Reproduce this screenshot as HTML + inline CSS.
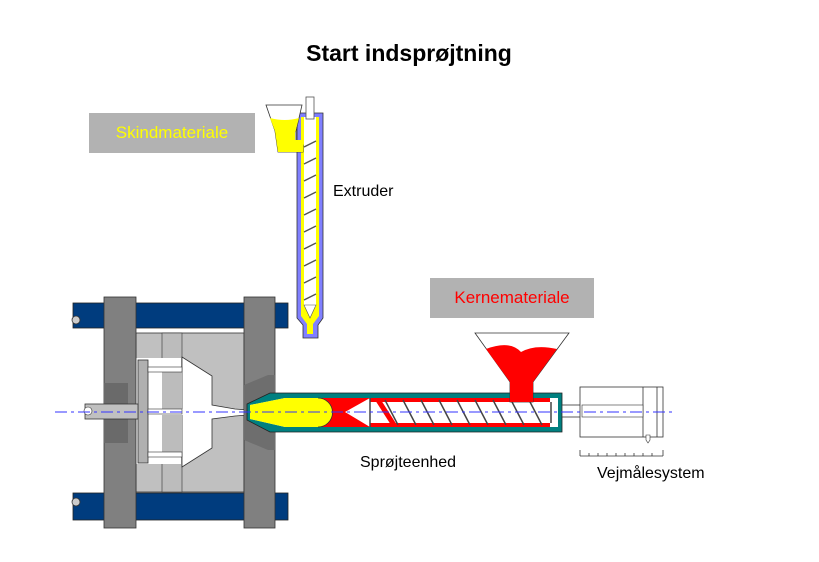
<!DOCTYPE html>
<html><head><meta charset="utf-8"><style>
html,body{margin:0;padding:0;background:#fff;width:819px;height:562px;overflow:hidden}
svg{display:block}
text{font-family:"Liberation Sans",Arial,sans-serif}
</style></head><body>
<svg width="819" height="562" viewBox="0 0 819 562" xmlns="http://www.w3.org/2000/svg">
<rect width="819" height="562" fill="#fff"/>
<text x="409" y="61" font-size="23" font-weight="bold" text-anchor="middle" fill="#000">Start indsprøjtning</text>

<rect x="89" y="113" width="166" height="40" fill="#b2b2b2"/>
<text x="172" y="138" font-size="17" text-anchor="middle" fill="#ffff00">Skindmateriale</text>
<rect x="430" y="278" width="164" height="40" fill="#b2b2b2"/>
<text x="512" y="303" font-size="17" text-anchor="middle" fill="#ff0000">Kernemateriale</text>

<text x="333" y="196" font-size="16" fill="#000">Extruder</text>
<text x="360" y="467" font-size="16" fill="#000">Sprøjteenhed</text>
<text x="597" y="478" font-size="16" fill="#000">Vejmålesystem</text>

<rect x="73" y="303" width="215" height="25" fill="#003c7e" stroke="#222" stroke-width="0.8"/>
<rect x="73" y="493" width="215" height="27" fill="#003c7e" stroke="#222" stroke-width="0.8"/>
<circle cx="76" cy="320" r="4" fill="#ccc" stroke="#333" stroke-width="0.8"/>
<circle cx="76" cy="502" r="4" fill="#ccc" stroke="#333" stroke-width="0.8"/>

<rect x="136" y="333" width="108" height="159" fill="#c0c0c0" stroke="#333" stroke-width="0.8"/>
<rect x="162" y="333" width="20" height="159" fill="#bcbcbc" stroke="#333" stroke-width="0.6"/>
<rect x="136" y="358" width="45" height="106" fill="#fff"/>
<polygon points="182,357 212,376 212,405 235,409 248,410 248,415 235,416 212,419 212,448 182,467" fill="#fff" stroke="#333" stroke-width="0.8"/>
<rect x="130" y="384" width="50" height="52" fill="#fff"/>
<rect x="148" y="409" width="52" height="6" fill="#fff"/>
<rect x="162" y="372" width="20" height="37" fill="#bcbcbc"/>
<rect x="162" y="415" width="20" height="37" fill="#bcbcbc"/>
<rect x="138" y="360" width="10" height="103" fill="#b0b0b0" stroke="#333" stroke-width="0.8"/>
<rect x="148" y="367" width="34" height="5" fill="#fff" stroke="#333" stroke-width="0.6"/>
<rect x="148" y="409" width="34" height="5" fill="#fff" stroke="#333" stroke-width="0.6"/>
<rect x="148" y="452" width="34" height="5" fill="#fff" stroke="#333" stroke-width="0.6"/>

<rect x="104" y="297" width="32" height="231" fill="#808080" stroke="#333" stroke-width="0.8"/>
<rect x="104" y="383" width="24" height="60" fill="#6a6a6a"/>
<rect x="85" y="404" width="53" height="15" fill="#c0c0c0" stroke="#333" stroke-width="0.8"/>
<circle cx="88" cy="411" r="4" fill="#fff" stroke="#333" stroke-width="0.6"/>
<rect x="244" y="297" width="31" height="231" fill="#808080" stroke="#333" stroke-width="0.8"/>
<polygon points="244,385 268,375 275,375 275,450 268,450 244,440" fill="#6e6e6e"/>

<polygon points="247,404 270,393 562,393 562,432 270,432 247,420" fill="#008080" stroke="#222" stroke-width="0.8"/>
<polygon points="250,405 285,398 558,398 558,427 285,427 250,419" fill="#fff"/>
<polygon points="250,405 285,398 318,398 318,427 285,427 250,419" fill="#ffff00"/>
<path d="M318,398 L370,398 L345,412 L370,427 L318,427 A14,14 0 0 0 318,398 Z" fill="#ff0000"/>
<path d="M318,398 A14,14 0 0 1 318,427" fill="#ffff00" stroke="#333" stroke-width="0.8"/>
<g fill="#ff0000">
<rect x="370" y="398" width="180" height="4"/>
<rect x="370" y="423" width="180" height="4"/>
</g>
<line x1="378" y1="400" x2="394" y2="425" stroke="#ff0000" stroke-width="5"/>
<g stroke="#444" stroke-width="1.5" fill="none">
<line x1="385" y1="400" x2="398" y2="425"/><line x1="403" y1="400" x2="416" y2="425"/>
<line x1="421" y1="400" x2="434" y2="425"/><line x1="439" y1="400" x2="452" y2="425"/>
<line x1="457" y1="400" x2="470" y2="425"/><line x1="475" y1="400" x2="488" y2="425"/>
<line x1="493" y1="400" x2="506" y2="425"/><line x1="511" y1="400" x2="524" y2="425"/>
<line x1="529" y1="400" x2="542" y2="425"/>
<line x1="370" y1="398" x2="370" y2="427"/><line x1="551" y1="402" x2="551" y2="423"/>
</g>
<polygon points="475,333 569,333 533,382 533,402 510,402 510,382" fill="#fff" stroke="#333" stroke-width="0.8"/>
<path d="M486,349 Q510,340 521,352 Q535,344 557,349 L533,382 L533,402 L510,402 L510,382 Z" fill="#ff0000"/>
<rect x="562" y="405" width="20" height="12" fill="#fff" stroke="#333" stroke-width="0.8"/>
<rect x="580" y="387" width="83" height="50" fill="#fff" stroke="#333" stroke-width="0.8"/>
<line x1="643" y1="387" x2="643" y2="437" stroke="#333" stroke-width="0.8"/>
<line x1="657" y1="387" x2="657" y2="437" stroke="#333" stroke-width="0.8"/>
<rect x="582" y="405" width="61" height="12" fill="#fff" stroke="#333" stroke-width="0.6"/>
<polygon points="646,435 650,435 650,440 648,443 646,440" fill="#fff" stroke="#333" stroke-width="0.6"/>
<g stroke="#333" stroke-width="0.8">
<line x1="580" y1="456" x2="663" y2="456"/>
<line x1="580" y1="450" x2="580" y2="456"/><line x1="663" y1="450" x2="663" y2="456"/>
<line x1="589" y1="453" x2="589" y2="456"/><line x1="598" y1="453" x2="598" y2="456"/><line x1="607" y1="453" x2="607" y2="456"/><line x1="616" y1="453" x2="616" y2="456"/><line x1="625" y1="453" x2="625" y2="456"/><line x1="634" y1="453" x2="634" y2="456"/><line x1="643" y1="453" x2="643" y2="456"/><line x1="652" y1="453" x2="652" y2="456"/>
</g>

<polygon points="297,113 323,113 323,318 318,325 318,338 303,338 303,325 297,318" fill="#8080ff" stroke="#333" stroke-width="0.8"/>
<polygon points="301,117 319,117 319,316 313,324 313,334 307,334 307,324 301,316" fill="#ffff00"/>
<rect x="304" y="117" width="12" height="190" fill="#fff"/>
<g stroke="#555" stroke-width="1.5">
<line x1="304" y1="147" x2="316" y2="141"/><line x1="304" y1="164" x2="316" y2="158"/>
<line x1="304" y1="181" x2="316" y2="175"/><line x1="304" y1="198" x2="316" y2="192"/>
<line x1="304" y1="215" x2="316" y2="209"/><line x1="304" y1="232" x2="316" y2="226"/>
<line x1="304" y1="249" x2="316" y2="243"/><line x1="304" y1="266" x2="316" y2="260"/>
<line x1="304" y1="283" x2="316" y2="277"/><line x1="304" y1="300" x2="316" y2="294"/>
</g>
<polygon points="304,305 316,305 310,318" fill="#fff" stroke="#555" stroke-width="0.6"/>
<rect x="306" y="97" width="8" height="22" fill="#fff" stroke="#555" stroke-width="0.8"/>
<polygon points="266,105 302,105 296,131 296,145 303,145 303,152 278,152 275,131" fill="#fff" stroke="#333" stroke-width="0.8"/>
<path d="M270,118 Q285,122 299,118 L295,133 L295,140 L303,140 L303,152 L278,152 L275,131 Z" fill="#ffff00"/>

<line x1="55" y1="412" x2="672" y2="412" stroke="#3333ff" stroke-width="1" stroke-dasharray="12,4,3,4"/>
</svg>
</body></html>
